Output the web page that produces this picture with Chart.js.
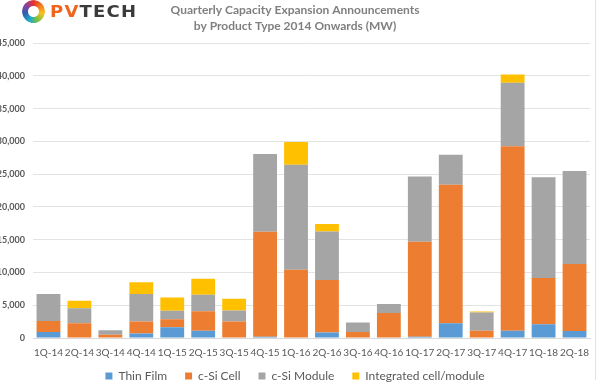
<!DOCTYPE html>
<html>
<head>
<meta charset="utf-8">
<script src="https://cdn.jsdelivr.net/npm/chart.js@4.4.0/dist/chart.umd.min.js"></script>
<style>
  html, body { margin: 0; padding: 0; background: #fff; }
  #frame { position: relative; width: 600px; height: 386px; overflow: hidden; background: #fff; }
  #wrap { position: absolute; left: -8px; top: 0; width: 608px; height: 386px; }
  #edge { position: absolute; left: 595px; top: 0; width: 1px; height: 380px; background: #e4e4e4; }
  .logo { position: absolute; left: 22px; top: 0; height: 24px; }
  .ring { position: absolute; left: 0; top: 0; width: 23px; height: 23px; border-radius: 50%;
    background: conic-gradient(#e8322b, #f47b20, #f9c21b, #7cc242, #1fa9c9, #2e5fb0, #8b3fa0, #e8322b);
    -webkit-mask: radial-gradient(circle, transparent 5px, #000 6px);
            mask: radial-gradient(circle, transparent 5px, #000 6px); }
  .word { position: absolute; left: 28px; top: 3px; font: bold 15px "DejaVu Sans", sans-serif;
    letter-spacing: 1px; transform: scaleX(1.2); transform-origin: left; white-space: nowrap; color: #3b3b3b; }
  .word span { color: #f0641e; }
</style>
</head>
<body>
<div id="frame">
  <div id="wrap"><canvas id="capacity-chart"></canvas></div>
  <div id="edge"></div>
  <div class="logo"><div class="ring"></div><div class="word"><span>PV</span>TECH</div></div>
</div>
<script>
// datos (MW)
const quarters = ['1Q-14', '2Q-14', '3Q-14', '4Q-14', '1Q-15', '2Q-15', '3Q-15', '4Q-15', '1Q-16',
                  '2Q-16', '3Q-16', '4Q-16', '1Q-17', '2Q-17', '3Q-17', '4Q-17', '1Q-18', '2Q-18'];
const thinFilm   = [900, 0, 0, 700, 1650, 1100, 0, 200, 0, 850, 0, 0, 200, 2250, 0, 1100, 2100, 1050];
const siCell     = [1700, 2250, 500, 1800, 1200, 3000, 2500, 16000, 10400, 8000, 900, 3800, 14500, 21150, 1100, 28150, 7050, 10250];
const siModule   = [4100, 2300, 700, 4200, 1300, 2500, 1700, 11900, 16050, 7400, 1450, 1400, 9950, 4550, 2800, 9700, 15400, 14200];
const integrated = [0, 1150, 0, 1800, 2050, 2450, 1800, 0, 3450, 1150, 0, 0, 0, 0, 150, 1250, 0, 0];
const yTicks = [0, 5000, 10000, 15000, 20000, 25000, 30000, 35000, 40000, 45000];

const seriesNames = ['Thin Film', 'c-Si Cell', 'c-Si Module', 'Integrated cell/module'];
const seriesColors = ['#5B9BD5', '#ED7D31', '#A5A5A5', '#FFC000'];

const FONT = 'Lato, "Open Sans", sans-serif';

// la leyenda usa el mismo padding en horizontal y vertical; se recorta el alto
// y al dibujar se sube el borde superior para que no quede tan abajo
const legendTweak = {
    id: 'legendTweak',
    afterInit(chart) {
        const legend = chart.legend;
        if (!legend) return;
        const fit = legend.fit;
        legend.fit = function () { fit.call(this); this.height -= 22; };
        const draw = legend.draw;
        legend.draw = function () {
            const top = this.top;
            this.top = top - 16;
            draw.apply(this, arguments);
            this.top = top;
        };
    }
};

document.addEventListener('DOMContentLoaded', () => {
    const ctx = document.getElementById('capacity-chart');

    new Chart(ctx, {
        type: 'bar',
        data: {
            labels: quarters,
            datasets: [thinFilm, siCell, siModule, integrated].map((values, i) => ({
                label: seriesNames[i],
                data: values,
                backgroundColor: seriesColors[i],
                borderWidth: 0,
                barPercentage: 0.77,
                categoryPercentage: 1
            }))
        },
        options: {
            responsive: true,
            maintainAspectRatio: false,
            animation: false,
            layout: { padding: { left: 8, right: 10, top: 0, bottom: 0 } },
            scales: {
                x: {
                    stacked: true,
                    grid: { display: false, drawTicks: false },
                    border: { color: '#d9d9d9' },
                    ticks: { color: '#595959', font: { family: FONT, size: 10 }, padding: 9,
                             maxRotation: 0, autoSkip: false }
                },
                y: {
                    stacked: true,
                    min: 0,
                    max: 45000,
                    afterBuildTicks: (scale) => { scale.ticks = yTicks.map(v => ({ value: v })); },
                    afterFit: (scale) => { scale.width = 33; },
                    grid: { color: '#e3e3e3', drawTicks: false },
                    border: { display: false },
                    ticks: {
                        color: '#595959', font: { family: FONT, size: 9, weight: 'bold' }, padding: 8,
                        callback: (v) => v.toLocaleString('en-US')
                    }
                }
            },
            plugins: {
                title: {
                    display: true,
                    text: ['Quarterly Capacity Expansion Announcements', 'by Product Type 2014 Onwards (MW)'],
                    color: '#7f7f7f',
                    font: { family: FONT, size: 12, weight: 'bold', lineHeight: 1.34 },
                    padding: { top: 2, bottom: 9 }
                },
                legend: {
                    position: 'bottom',
                    labels: { color: '#595959', font: { family: FONT, size: 12 },
                              boxWidth: 7, boxHeight: 7, padding: 18 }
                },
                tooltip: { enabled: false }
            }
        },
        plugins: [legendTweak]
    });
});
</script>
</body>
</html>
